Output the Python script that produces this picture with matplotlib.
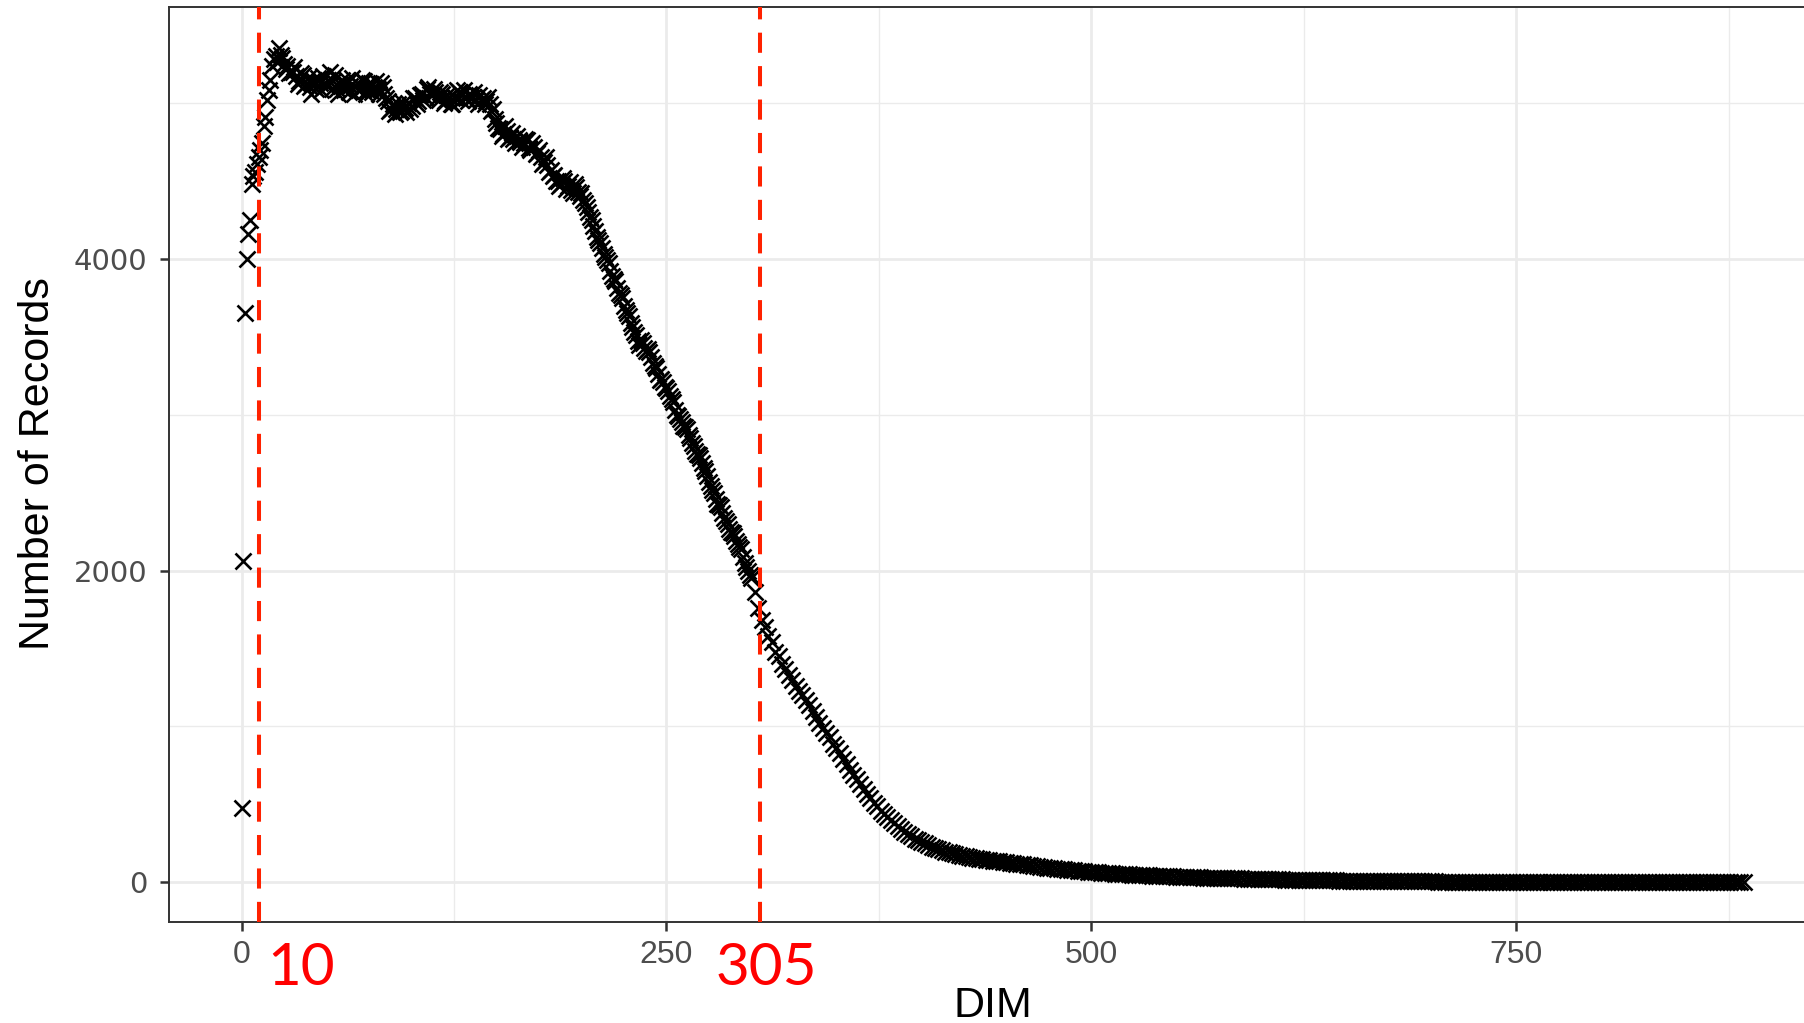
import matplotlib
matplotlib.use("Agg")
import matplotlib.pyplot as plt
from matplotlib.ticker import FixedLocator

# ---------------- data ----------------
dim_rise = list(range(0, 30))
rec_rise = [480, 2060, 3650, 4000, 4160, 4250, 4480, 4530, 4560, 4610,
            4650, 4700, 4740, 4850, 4910, 5020, 5080, 5150, 5240, 5280,
            5300, 5260, 5350, 5310, 5290, 5250, 5220, 5240, 5190, 5200]

dim_mid = list(range(30, 300))
rec_mid = [5200, 5230, 5170, 5120, 5140, 5190, 5180, 5110, 5120, 5160,
           5100, 5060, 5150, 5120, 5090, 5160, 5130, 5080, 5170, 5120,
           5110, 5150, 5200, 5090, 5140, 5180, 5090, 5060, 5120, 5150,
           5080, 5120, 5150, 5070, 5110, 5160, 5060, 5100, 5130, 5080,
           5100, 5150, 5140, 5060, 5080, 5130, 5120, 5070, 5100, 5140,
           5090, 5060, 5130, 5100, 5060, 5030, 5010, 4950, 4960, 4990,
           4930, 4960, 4990, 4940, 4950, 5000, 4970, 4940, 5000, 4960,
           4980, 5030, 5030, 4990, 5010, 5050, 5060, 5020, 5040, 5090,
           5100, 5060, 5050, 5090, 5070, 5030, 5020, 5070, 5060, 5000,
           5010, 5050, 5040, 4990, 4990, 5040, 5030, 5080, 5070, 5020,
           5050, 5080, 5030, 5010, 5060, 5030, 5040, 5070, 5020, 4990,
           5050, 5020, 5030, 4990, 5010, 5040, 4990, 4950, 4960, 4900,
           4870, 4840, 4830, 4790, 4800, 4850, 4820, 4770, 4780, 4810,
           4770, 4740, 4790, 4760, 4750, 4720, 4740, 4770, 4760, 4710,
           4700, 4740, 4720, 4670, 4680, 4700, 4650, 4610, 4620, 4650,
           4600, 4560, 4570, 4530, 4540, 4500, 4500, 4470, 4480, 4520,
           4500, 4450, 4470, 4490, 4440, 4420, 4480, 4460, 4430, 4400,
           4420, 4380, 4360, 4330, 4300, 4270, 4250, 4210, 4180, 4140,
           4120, 4100, 4070, 4030, 4010, 3990, 3970, 3920, 3890, 3870,
           3860, 3810, 3780, 3770, 3750, 3700, 3670, 3650, 3630, 3590,
           3560, 3530, 3510, 3470, 3450, 3480, 3460, 3430, 3410, 3420,
           3400, 3370, 3330, 3310, 3300, 3260, 3220, 3230, 3210, 3180,
           3170, 3150, 3120, 3100, 3080, 3030, 3000, 2990, 2970, 2950,
           2930, 2920, 2910, 2870, 2850, 2820, 2800, 2770, 2750, 2740,
           2720, 2690, 2660, 2640, 2610, 2570, 2540, 2520, 2500, 2460,
           2430, 2420, 2410, 2370, 2340, 2320, 2300, 2270, 2250, 2240,
           2220, 2190, 2170, 2150, 2140, 2090, 2050, 2020, 2000, 1970]

dim_tail = list(range(300, 886, 2))
rec_tail = [1950, 1860, 1760, 1680, 1640, 1580, 1540, 1480, 1450, 1400,
            1370, 1330, 1300, 1260, 1230, 1200, 1170, 1140, 1100, 1060,
            1020, 990, 960, 930, 890, 860, 830, 790, 760, 720,
            690, 660, 630, 600, 570, 540, 510, 490, 460, 440,
            420, 400, 380, 360, 340, 325, 310, 295, 280, 270,
            260, 250, 240, 230, 220, 212, 205, 198, 192, 186,
            180, 175, 170, 166, 162, 158, 155, 152, 149, 146,
            143, 140, 137, 134, 131, 128, 126, 124, 121, 118,
            115, 112, 110, 107, 104, 101, 98, 95, 93, 90,
            88, 86, 83, 81, 79, 77, 75, 73, 71, 69,
            67, 65, 64, 62, 61, 59, 58, 56, 55, 54,
            52, 51, 50, 49, 48, 47, 46, 45, 44, 43,
            42, 41, 40, 39, 38, 37, 36, 36, 35, 34,
            33, 33, 32, 31, 31, 30, 29, 29, 28, 27,
            27, 26, 26, 25, 25, 24, 24, 23, 23, 22,
            22, 21, 21, 20, 20, 19, 19, 18, 18, 17,
            17, 17, 16, 16, 15, 15, 15, 14, 14, 14,
            13, 13, 13, 12, 12, 12, 11, 11, 11, 10,
            10, 10, 10, 9, 9, 9, 9, 8, 8, 8,
            8, 7, 7, 7, 7, 7, 6, 6, 6, 6,
            6, 6, 5, 5, 5, 5, 5, 5, 4, 4,
            4, 4, 4, 4, 4, 4, 3, 3, 3, 3,
            3, 3, 3, 3, 3, 3, 3, 2, 2, 2,
            2, 2, 2, 2, 2, 2, 2, 2, 2, 2,
            2, 2, 2, 2, 1, 2, 1, 1, 2, 1,
            1, 1, 1, 1, 1, 1, 1, 1, 1, 1,
            1, 1, 1, 1, 1, 1, 1, 1, 1, 1,
            1, 1, 1, 1, 1, 1, 1, 1, 1, 1,
            1, 1, 1, 1, 1, 1, 1, 1, 1, 1,
            1, 0, 1]

cutoffs = [10, 305]
cutoff_labels = ["10", "305"]
x_ticks = [0, 250, 500, 750]
x_minor = [125, 375, 625, 875]
y_ticks = [0, 2000, 4000]
y_minor = [1000, 3000, 5000]

dims = dim_rise + dim_mid + dim_tail
recs = rec_rise + rec_mid + rec_tail

# ---------------- figure ----------------
W, H = 1804, 1023
fig = plt.figure(figsize=(W / 100, H / 100), dpi=100)
fig.patch.set_facecolor("white")
ax = fig.add_axes([169 / W, 1 - 921.5 / H, (1822 - 169) / W, (921.5 - 6.9) / H])
ax.set_xlim(-42.7, 930)
ax.set_ylim(-251, 5616)

ax.set_xticks(x_ticks)
ax.set_yticks(y_ticks)
ax.xaxis.set_minor_locator(FixedLocator(x_minor))
ax.yaxis.set_minor_locator(FixedLocator(y_minor))
ax.grid(which="major", color="#EBEBEB", lw=2.0)
ax.grid(which="minor", color="#EBEBEB", lw=1.0)
ax.set_axisbelow(True)
ax.tick_params(which="minor", length=0)
ax.tick_params(which="major", length=6.5, width=1.8, color="#333333",
               labelcolor="#4D4D4D")
ax.tick_params(axis="x", pad=7, labelsize=23)
ax.tick_params(axis="y", pad=9, labelsize=21)
for lab in ax.get_xticklabels():
    lab.set_family("Liberation Sans")
for lab in ax.get_yticklabels():
    lab.set_family("DejaVu Sans")
for sp in ax.spines.values():
    sp.set_color("#333333")
    sp.set_linewidth(1.4)

ax.plot(dims, recs, ls="none", marker="x", ms=11.5, mew=1.9, color="black", zorder=3)

for c in cutoffs:
    ax.axvline(c, color="#FF2200", lw=2.9, dashes=(5, 3.3), zorder=4)

ax.set_xlabel("DIM", fontsize=31, family="Liberation Sans", color="black",
              va="baseline")
ax.xaxis.set_label_coords(993 / W, 1 - 1017 / H, transform=fig.transFigure)
ax.set_ylabel("Number of Records", fontsize=31, family="Liberation Sans",
              color="black", va="center")
ax.yaxis.set_label_coords(38 / W, 1 - 464 / H, transform=fig.transFigure)

label_x = [301, 766]
for lx, txt in zip(label_x, cutoff_labels):
    fig.text(lx / W, 1 - 985 / H, txt, color="#FF0000", fontsize=42,
             family="Lato", ha="center", va="baseline")

fig.savefig("out.png", dpi=100)
